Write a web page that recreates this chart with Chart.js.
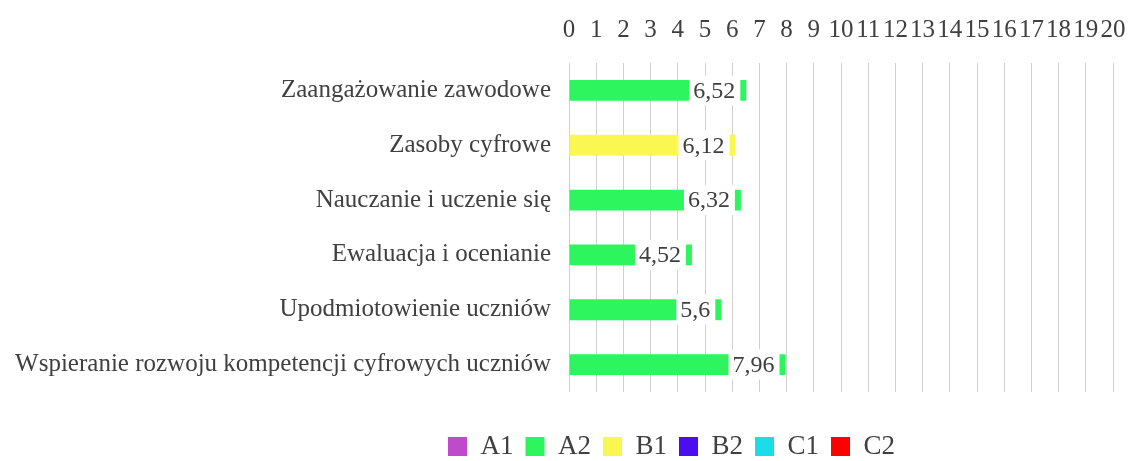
<!DOCTYPE html>
<html>
<head>
<meta charset="utf-8">
<script src="https://cdn.jsdelivr.net/npm/chart.js@4"></script>
<style>
  html, body { margin: 0; padding: 0; background: #fff; }
  #wrap { width: 1128px; height: 461px; }
</style>
</head>
<body>
<div id="wrap"><canvas id="myBarChart"></canvas></div>
<script>
// Dane wykresu
const categories = [
    'Zaangażowanie zawodowe',
    'Zasoby cyfrowe',
    'Nauczanie i uczenie się',
    'Ewaluacja i ocenianie',
    'Upodmiotowienie uczniów',
    'Wspieranie rozwoju kompetencji cyfrowych uczniów'
];
const scores = [6.52, 6.12, 6.32, 4.52, 5.6, 7.96];
const scoreLevels = ['A2', 'B1', 'A2', 'A2', 'A2', 'A2'];
const levels = ['A1', 'A2', 'B1', 'B2', 'C1', 'C2'];
const levelColors = ['#BE4BCC', '#2CF55E', '#FAF750', '#4B0EEE', '#1CDCE8', '#FF0000'];
const xTicks = [0, 20];

const FONT = 'Liberation Serif';
const TEXT_COLOR = '#404040';

// jeden zbiór danych na poziom, wartość tylko tam, gdzie kategoria ma ten poziom
const datasets = levels.map((lvl, i) => ({
    label: lvl,
    data: scores.map((v, j) => scoreLevels[j] === lvl ? v : null),
    backgroundColor: levelColors[i],
    borderWidth: 0,
    categoryPercentage: 1,
    barPercentage: 0.38
}));

// etykiety wartości na białym tle, przy końcu słupka
const valueLabels = {
    id: 'valueLabels',
    afterDatasetsDraw(chart) {
        const ctx = chart.ctx;
        ctx.save();
        ctx.font = '24px "' + FONT + '"';
        ctx.textAlign = 'right';
        ctx.textBaseline = 'middle';
        chart.data.datasets.forEach((ds, di) => {
            const meta = chart.getDatasetMeta(di);
            meta.data.forEach((bar, i) => {
                const v = ds.data[i];
                if (v === null || v === undefined) return;
                const txt = String(v).replace('.', ',');
                const w = ctx.measureText(txt).width;
                const boxRight = bar.x - 6;
                const textRight = boxRight - 5;
                const boxLeft = textRight - w - 4;
                ctx.fillStyle = '#ffffff';
                ctx.fillRect(boxLeft, bar.y - 15, boxRight - boxLeft, 30);
                ctx.fillStyle = TEXT_COLOR;
                ctx.fillText(txt, textRight, bar.y + 1);
            });
        });
        ctx.restore();
    }
};

// przesunięcie legendy (w oryginale nie jest wyśrodkowana na płótnie)
const legendShift = {
    id: 'legendShift',
    afterLayout(chart) {
        const lg = chart.legend;
        if (!lg) return;
        const dx = 436 - lg.left;
        const dy = 29;
        lg.left += dx; lg.right += dx;
        lg.top += dy; lg.bottom += dy;
    }
};

document.addEventListener('DOMContentLoaded', function() {
    if (typeof Chart === 'undefined') {
        console.error('Chart.js nie jest załadowany!');
        return;
    }
    new Chart(document.getElementById('myBarChart'), {
        type: 'bar',
        data: { labels: categories, datasets: datasets },
        options: {
            indexAxis: 'y',
            responsive: true,
            maintainAspectRatio: false,
            animation: false,
            layout: { padding: { left: 10, right: 0, top: -3, bottom: 20 } },
            plugins: {
                legend: {
                    position: 'bottom',
                    align: 'start',
                    labels: {
                        boxWidth: 19,
                        boxHeight: 19,
                        padding: 12,
                        color: TEXT_COLOR,
                        font: { family: FONT, size: 27 }
                    }
                },
                tooltip: { enabled: false }
            },
            scales: {
                x: {
                    position: 'top',
                    stacked: true,
                    min: xTicks[0],
                    max: xTicks[1],
                    afterFit(scale) { scale.paddingLeft = 0; scale.paddingRight = 15; },
                    ticks: {
                        stepSize: 1,
                        padding: 18,
                        color: TEXT_COLOR,
                        font: { family: FONT, size: 25 },
                        maxRotation: 0,
                        autoSkip: false
                    },
                    grid: { color: '#d0d0d0', drawTicks: false },
                    border: { display: false }
                },
                y: {
                    stacked: true,
                    afterFit(scale) { scale.width = 559; },
                    ticks: {
                        padding: 10,
                        color: TEXT_COLOR,
                        font: { family: FONT, size: 25 }
                    },
                    grid: { display: false },
                    border: { display: false }
                }
            }
        },
        plugins: [valueLabels, legendShift]
    });
});
</script>
</body>
</html>
